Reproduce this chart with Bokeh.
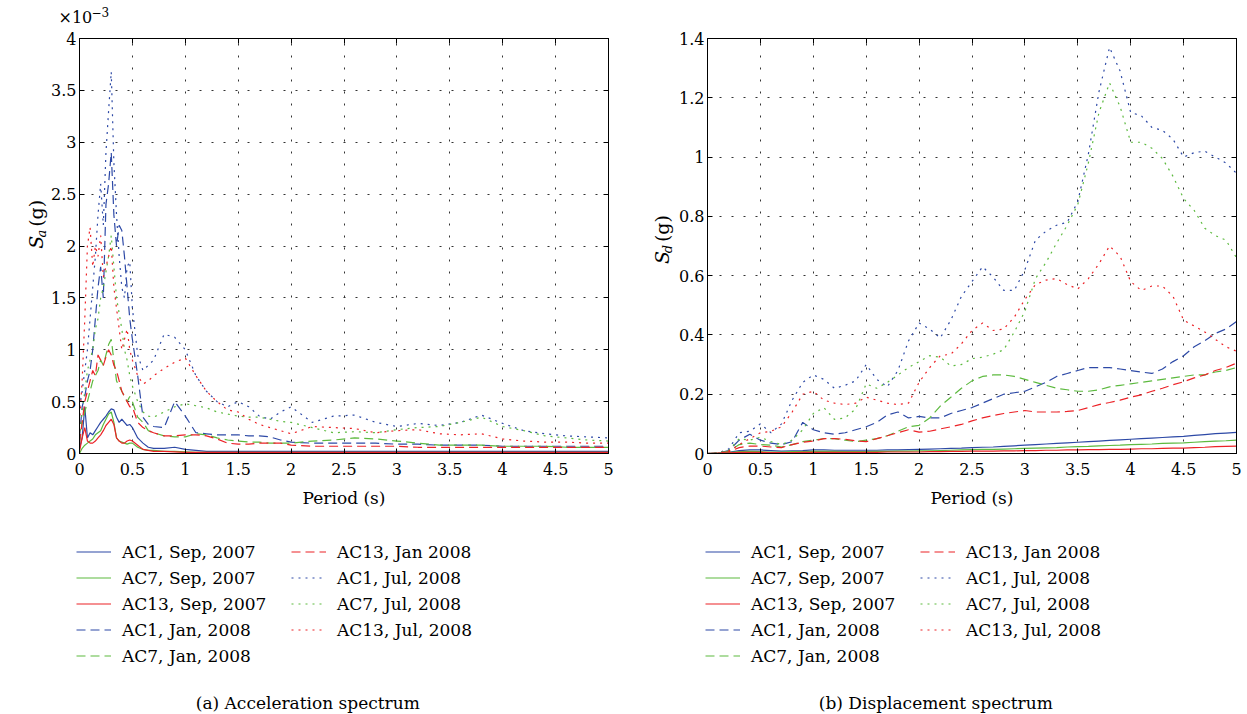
import numpy as np
from bokeh.plotting import figure
from bokeh.models import Legend, LegendItem, Label, FixedTicker, Range1d, LinearAxis
from bokeh.layouts import row, column
from bokeh.embed import file_html
from bokeh.resources import INLINE

FONT = "DejaVu Serif"

# ---------------- data ----------------
series_names = ["AC1, Sep, 2007", "AC7, Sep, 2007", "AC13, Sep, 2007",
                "AC1, Jan, 2008", "AC7, Jan, 2008", "AC13, Jan 2008",
                "AC1, Jul, 2008", "AC7, Jul, 2008", "AC13, Jul, 2008"]

# Acceleration spectrum (values in units of 1e-3 g)
period_acc = [0, 0.025, 0.05, 0.075, 0.1, 0.125, 0.15, 0.175, 0.2, 0.225, 0.25, 0.275, 0.3, 0.325,
              0.35, 0.375, 0.4, 0.425, 0.45, 0.475, 0.5, 0.55, 0.6, 0.65, 0.7, 0.8, 0.9, 1.0, 1.1,
              1.2, 1.3, 1.4, 1.5, 1.6, 1.7, 1.8, 1.9, 2.0, 2.2, 2.4, 2.6, 2.8, 3.0, 3.2, 3.4, 3.6,
              3.8, 4.0, 4.2, 4.4, 4.6, 4.8, 5.0]
acc_ac1_sep = [0.05, 0.15, 0.45, 0.15, 0.2, 0.18, 0.22, 0.26, 0.3, 0.33, 0.36, 0.4, 0.43, 0.42, 0.35,
               0.3, 0.33, 0.3, 0.27, 0.28, 0.25, 0.15, 0.1, 0.06, 0.05, 0.05, 0.06, 0.04, 0.03, 0.02,
               0.02, 0.02, 0.02, 0.02, 0.02, 0.02, 0.02, 0.02, 0.02, 0.02, 0.02, 0.02, 0.02, 0.02,
               0.02, 0.02, 0.02, 0.02, 0.02, 0.02, 0.02, 0.02, 0.02]
acc_ac7_sep = [0.0, 0.05, 0.08, 0.1, 0.12, 0.14, 0.18, 0.2, 0.22, 0.28, 0.33, 0.38, 0.4, 0.3, 0.15,
               0.12, 0.11, 0.1, 0.09, 0.1, 0.1, 0.06, 0.04, 0.03, 0.03, 0.02, 0.02, 0.015, 0.01, 0.01,
               0.01, 0.01, 0.01, 0.01, 0.01, 0.01, 0.01, 0.01, 0.01, 0.01, 0.01, 0.01, 0.01, 0.01,
               0.01, 0.01, 0.01, 0.01, 0.01, 0.01, 0.01, 0.01, 0.01]
acc_ac13_sep = [0.02, 0.15, 0.25, 0.12, 0.1, 0.1, 0.12, 0.15, 0.18, 0.22, 0.27, 0.3, 0.33, 0.28, 0.15,
                0.12, 0.1, 0.1, 0.12, 0.13, 0.12, 0.08, 0.04, 0.03, 0.02, 0.02, 0.015, 0.01, 0.01, 0.01,
                0.01, 0.01, 0.01, 0.01, 0.01, 0.01, 0.01, 0.01, 0.01, 0.01, 0.01, 0.01, 0.01, 0.01,
                0.01, 0.01, 0.01, 0.01, 0.01, 0.01, 0.01, 0.01, 0.01]
acc_ac1_jan = [0.15, 0.45, 0.55, 0.7, 0.8, 1.0, 1.3, 1.6, 1.8, 1.5, 2.4, 2.6, 2.9, 2.3, 2.0, 2.2, 2.15,
               1.9, 1.6, 1.3, 1.1, 0.75, 0.35, 0.28, 0.26, 0.25, 0.5, 0.36, 0.2, 0.19, 0.18, 0.18, 0.18,
               0.17, 0.17, 0.16, 0.13, 0.11, 0.1, 0.1, 0.1, 0.1, 0.09, 0.09, 0.08, 0.08, 0.08, 0.07,
               0.07, 0.07, 0.07, 0.07, 0.07]
acc_ac7_jan = [0.1, 0.3, 0.4, 0.5, 0.6, 0.7, 0.75, 0.8, 0.9, 0.85, 0.95, 1.05, 1.1, 0.9, 0.7, 0.65, 0.6,
               0.55, 0.5, 0.55, 0.5, 0.35, 0.3, 0.22, 0.2, 0.17, 0.16, 0.16, 0.19, 0.18, 0.15, 0.13,
               0.12, 0.11, 0.11, 0.1, 0.1, 0.1, 0.12, 0.13, 0.15, 0.14, 0.12, 0.1, 0.08, 0.08, 0.08,
               0.07, 0.07, 0.07, 0.06, 0.06, 0.06]
acc_ac13_jan = [0.1, 0.3, 0.5, 0.6, 0.7, 0.8, 0.75, 0.95, 0.9, 0.85, 0.93, 1.0, 0.95, 0.85, 0.8, 0.7,
                0.6, 0.55, 0.5, 0.45, 0.45, 0.3, 0.25, 0.22, 0.2, 0.17, 0.17, 0.18, 0.18, 0.17, 0.14,
                0.1, 0.09, 0.09, 0.1, 0.1, 0.1, 0.08, 0.07, 0.07, 0.07, 0.07, 0.07, 0.06, 0.06, 0.06,
                0.06, 0.06, 0.06, 0.06, 0.06, 0.06, 0.06]
acc_ac1_jul = [0.45, 0.6, 0.8, 1.0, 1.3, 1.6, 1.9, 2.3, 2.6, 2.2, 2.9, 3.3, 3.68, 2.8, 2.3, 1.9, 1.6,
               1.5, 1.8, 1.85, 1.4, 0.95, 0.8, 0.85, 0.9, 1.15, 1.12, 1.0, 0.75, 0.6, 0.5, 0.45, 0.5,
               0.45, 0.36, 0.33, 0.4, 0.45, 0.3, 0.36, 0.37, 0.3, 0.26, 0.29, 0.27, 0.3, 0.37, 0.29,
               0.22, 0.19, 0.17, 0.16, 0.15]
acc_ac7_jul = [0.15, 0.4, 0.6, 0.8, 0.9, 1.0, 1.2, 1.3, 1.5, 1.6, 1.75, 1.9, 2.1, 1.8, 1.5, 1.35, 1.2,
               1.0, 0.9, 0.75, 0.65, 0.5, 0.4, 0.36, 0.35, 0.4, 0.45, 0.48, 0.46, 0.44, 0.4, 0.38,
               0.36, 0.35, 0.35, 0.33, 0.31, 0.3, 0.25, 0.2, 0.21, 0.2, 0.23, 0.25, 0.26, 0.3, 0.35,
               0.26, 0.22, 0.17, 0.15, 0.13, 0.12]
acc_ac13_jul = [0.3, 0.7, 1.3, 2.0, 2.18, 1.8, 2.0, 1.9, 2.1, 1.7, 1.8, 1.9, 2.0, 1.6, 1.4, 1.2, 1.0,
                1.1, 1.2, 1.0, 0.9, 0.75, 0.67, 0.7, 0.75, 0.82, 0.88, 0.92, 0.75, 0.6, 0.5, 0.42,
                0.4, 0.33, 0.28, 0.25, 0.22, 0.19, 0.26, 0.25, 0.24, 0.2, 0.22, 0.23, 0.19, 0.18,
                0.19, 0.14, 0.12, 0.11, 0.11, 0.1, 0.1]

# Displacement spectrum
period_disp = [0.0, 0.1, 0.2, 0.3, 0.4, 0.5, 0.6, 0.7, 0.8, 0.9, 1.0, 1.1, 1.2, 1.3, 1.4, 1.5, 1.6,
               1.7, 1.8, 1.9, 2.0, 2.1, 2.2, 2.3, 2.4, 2.5, 2.6, 2.7, 2.8, 2.9, 3.0, 3.1, 3.2, 3.3,
               3.4, 3.5, 3.6, 3.7, 3.8, 3.9, 4.0, 4.1, 4.2, 4.3, 4.4, 4.5, 4.6, 4.7, 4.8, 4.9, 5.0]
disp_ac1_sep = [0.0, 0.001, 0.004, 0.01, 0.012, 0.012, 0.01, 0.008, 0.009, 0.01, 0.012, 0.012, 0.011,
                0.011, 0.011, 0.011, 0.011, 0.012, 0.012, 0.013, 0.014, 0.015, 0.016, 0.017, 0.018,
                0.02, 0.021, 0.022, 0.024, 0.026, 0.028, 0.03, 0.032, 0.034, 0.036, 0.038, 0.04,
                0.042, 0.044, 0.046, 0.048, 0.05, 0.052, 0.054, 0.056, 0.058, 0.061, 0.064, 0.067,
                0.069, 0.071]
disp_ac7_sep = [0.0, 0.001, 0.003, 0.006, 0.007, 0.006, 0.005, 0.005, 0.006, 0.006, 0.007, 0.007,
                0.007, 0.006, 0.006, 0.006, 0.007, 0.007, 0.008, 0.008, 0.009, 0.009, 0.01, 0.011,
                0.012, 0.013, 0.014, 0.014, 0.015, 0.016, 0.017, 0.018, 0.019, 0.02, 0.022, 0.023,
                0.024, 0.026, 0.027, 0.028, 0.03, 0.031, 0.032, 0.034, 0.035, 0.036, 0.038, 0.04,
                0.042, 0.043, 0.045]
disp_ac13_sep = [0.0, 0.001, 0.002, 0.004, 0.004, 0.004, 0.003, 0.003, 0.003, 0.004, 0.004, 0.004,
                 0.004, 0.004, 0.004, 0.004, 0.004, 0.005, 0.005, 0.005, 0.005, 0.006, 0.006, 0.007,
                 0.007, 0.008, 0.008, 0.008, 0.009, 0.009, 0.01, 0.01, 0.011, 0.011, 0.012, 0.012,
                 0.013, 0.013, 0.014, 0.014, 0.015, 0.016, 0.016, 0.017, 0.018, 0.018, 0.02, 0.021,
                 0.023, 0.024, 0.025]
disp_ac1_jan = [0.0, 0.001, 0.01, 0.045, 0.065, 0.045, 0.035, 0.03, 0.04, 0.105, 0.08, 0.07, 0.065,
                0.07, 0.08, 0.09, 0.105, 0.13, 0.14, 0.12, 0.125, 0.12, 0.12, 0.135, 0.145, 0.155,
                0.17, 0.185, 0.2, 0.205, 0.21, 0.225, 0.24, 0.26, 0.27, 0.28, 0.29, 0.29, 0.29, 0.285,
                0.28, 0.275, 0.27, 0.285, 0.31, 0.33, 0.36, 0.38, 0.405, 0.42, 0.445]
disp_ac7_jan = [0.0, 0.001, 0.008, 0.03, 0.035, 0.03, 0.028, 0.022, 0.03, 0.04, 0.045, 0.05, 0.05,
                0.045, 0.04, 0.045, 0.05, 0.06, 0.075, 0.09, 0.095, 0.12, 0.16, 0.19, 0.22, 0.245,
                0.26, 0.265, 0.265, 0.26, 0.25, 0.24, 0.23, 0.22, 0.215, 0.21, 0.21, 0.215, 0.225,
                0.23, 0.235, 0.24, 0.245, 0.25, 0.255, 0.26, 0.265, 0.265, 0.275, 0.28, 0.29]
disp_ac13_jan = [0.0, 0.001, 0.006, 0.02, 0.025, 0.025, 0.022, 0.02, 0.03, 0.038, 0.042, 0.05, 0.05,
                 0.048, 0.043, 0.04, 0.05, 0.06, 0.07, 0.08, 0.072, 0.075, 0.083, 0.09, 0.098, 0.11,
                 0.12, 0.128, 0.135, 0.14, 0.145, 0.14, 0.14, 0.14, 0.142, 0.145, 0.155, 0.165, 0.172,
                 0.18, 0.19, 0.198, 0.21, 0.22, 0.232, 0.242, 0.255, 0.265, 0.28, 0.29, 0.305]
disp_ac1_jul = [0.0, 0.002, 0.015, 0.07, 0.075, 0.1, 0.07, 0.1, 0.18, 0.24, 0.265, 0.25, 0.22, 0.23,
                0.245, 0.3, 0.25, 0.225, 0.28, 0.38, 0.44, 0.42, 0.39, 0.45, 0.53, 0.58, 0.63, 0.595,
                0.55, 0.55, 0.62, 0.72, 0.75, 0.77, 0.78, 0.85, 1.01, 1.22, 1.37, 1.29, 1.15, 1.14,
                1.1, 1.09, 1.06, 1.0, 1.015, 1.02, 1.0, 0.98, 0.945]
disp_ac7_jul = [0.0, 0.002, 0.01, 0.05, 0.045, 0.055, 0.04, 0.03, 0.045, 0.08, 0.135, 0.155, 0.115,
                0.12, 0.15, 0.235, 0.22, 0.24, 0.265, 0.29, 0.31, 0.33, 0.325, 0.295, 0.3, 0.32, 0.325,
                0.335, 0.35, 0.41, 0.48, 0.59, 0.645, 0.71, 0.77, 0.84, 0.98, 1.15, 1.25, 1.17, 1.05,
                1.05, 1.03, 0.995, 0.935, 0.86, 0.82, 0.76, 0.735, 0.72, 0.66]
disp_ac13_jul = [0.0, 0.001, 0.008, 0.03, 0.05, 0.07, 0.075, 0.09, 0.14, 0.2, 0.21, 0.18, 0.17, 0.165,
                 0.17, 0.19, 0.18, 0.17, 0.165, 0.17, 0.24, 0.29, 0.33, 0.335, 0.37, 0.415, 0.44,
                 0.415, 0.42, 0.46, 0.52, 0.57, 0.585, 0.59, 0.57, 0.555, 0.59, 0.64, 0.7, 0.665,
                 0.58, 0.55, 0.565, 0.565, 0.53, 0.45, 0.43, 0.41, 0.385, 0.36, 0.345]

x_ticks = [0, 0.5, 1.0, 1.5, 2.0, 2.5, 3.0, 3.5, 4.0, 4.5, 5.0]
x_tick_labels = ["0", "0.5", "1", "1.5", "2", "2.5", "3", "3.5", "4", "4.5", "5"]
acc_ticks = [0, 0.5, 1.0, 1.5, 2.0, 2.5, 3.0, 3.5, 4.0]
acc_tick_labels = ["0", "0.5", "1", "1.5", "2", "2.5", "3", "3.5", "4"]
disp_ticks = [0, 0.2, 0.4, 0.6, 0.8, 1.0, 1.2, 1.4]
disp_tick_labels = ["0", "0.2", "0.4", "0.6", "0.8", "1", "1.2", "1.4"]

# ---------------- styles ----------------
BLUE, GREEN, RED = "#2d49a6", "#5dba3f", "#ec2227"
colors = [BLUE, GREEN, RED] * 3
dashes = ["solid"] * 3 + ["9 5"] * 3 + ["2 5"] * 3

TOP_H = 26          # strip above the plot (holds the x10^-3 multiplier)
MAIN_TOP = 12       # room above the frame for the top tick label
MAIN_BOTTOM = 62    # x-axis area under the frame
FRAME_W, FRAME_H = 529, 415
MAIN_LEFT = 29
MAIN_H = MAIN_TOP + FRAME_H + MAIN_BOTTOM
BOTTOM_H = 714 - TOP_H - MAIN_H
ROW_TOP = TOP_H     # page y where the plot row starts


def blank(w, h):
    q = figure(width=w, height=h, x_range=Range1d(0, w), y_range=Range1d(h, 0),
               x_axis_type=None, y_axis_type=None, output_backend="svg", toolbar_location=None,
               min_border=0, min_border_left=0, min_border_right=0, min_border_top=0,
               min_border_bottom=0)
    q.outline_line_color = None
    q.background_fill_color = "white"
    q.border_fill_color = "white"
    return q


def text(q, x, y, s, size, style="normal", align="left", baseline="alphabetic", angle=0.0):
    q.add_layout(Label(x=x, y=y, text=s, text_font=FONT, text_font_size=size,
                       text_font_style=style, text_align=align, text_baseline=baseline,
                       angle=angle, text_color="black"))


def box_axis(ticker):
    return LinearAxis(ticker=ticker, major_tick_in=5, major_tick_out=0,
                      minor_tick_line_color=None, axis_line_color="black",
                      major_tick_line_color="black", major_label_text_font_size="1px",
                      major_label_text_color=None, major_label_standoff=0)


def main_panel(period, series, y_end, y_ticks, y_labels, right_border):
    p = figure(frame_width=FRAME_W, frame_height=FRAME_H, x_range=Range1d(0, 5),
               y_range=Range1d(0, y_end), output_backend="svg", toolbar_location=None,
               min_border_left=MAIN_LEFT, min_border_right=right_border, min_border_top=MAIN_TOP,
               min_border_bottom=MAIN_BOTTOM)
    p.background_fill_color = "white"
    p.border_fill_color = "white"
    p.outline_line_color = "black"
    p.outline_line_width = 1
    for vals, c, d in zip(series, colors, dashes):
        p.line(period, vals, line_color=c, line_dash=d, line_width=1.2)

    xt = FixedTicker(ticks=x_ticks)
    yt = FixedTicker(ticks=y_ticks)
    p.xaxis.ticker = xt
    p.yaxis.ticker = yt
    p.xgrid.ticker = xt
    p.ygrid.ticker = yt
    p.xaxis.major_label_overrides = {float(t): l for t, l in zip(x_ticks, x_tick_labels)}
    p.yaxis.major_label_overrides = {float(t): l for t, l in zip(y_ticks, y_labels)}
    for ax in (p.xaxis[0], p.yaxis[0]):
        ax.major_tick_in = 5
        ax.major_tick_out = 0
        ax.minor_tick_line_color = None
        ax.axis_line_color = "black"
        ax.major_tick_line_color = "black"
        ax.major_label_text_font = FONT
        ax.major_label_text_font_size = "16px"
        ax.major_label_text_color = "black"
    p.yaxis.major_label_standoff = 3
    p.xaxis.major_label_standoff = 9
    p.xaxis.axis_label = "Period (s)"
    p.xaxis.axis_label_text_font = FONT
    p.xaxis.axis_label_text_font_size = "17px"
    p.xaxis.axis_label_text_font_style = "normal"
    p.xaxis.axis_label_text_color = "black"
    p.xaxis.axis_label_standoff = 10
    # tick marks on the top and right edges of the box
    p.add_layout(box_axis(xt), "above")
    p.add_layout(box_axis(yt), "right")
    for g in (p.xgrid[0], p.ygrid[0]):
        g.grid_line_color = "#333333"
        g.grid_line_dash = "2 10"
        g.grid_line_width = 1
    return p


def ylabel_panel(w, centre_x, start_y, sub):
    # rotated "S<sub> (g)", reading bottom-to-top; positions are text centres
    q = blank(w, MAIN_H)
    a = np.pi / 2
    text(q, centre_x, start_y - 6, "S", "19px", "italic", "center", "middle", a)
    text(q, centre_x + 5, start_y - 16, sub, "13px", "italic", "center", "middle", a)
    text(q, centre_x, start_y - 40, "(g)", "19px", "normal", "center", "middle", a)
    return q


def bottom_panel(w, leg_x, caption, cap_x):
    q = blank(w, BOTTOM_H)
    # legend keys (kept outside the visible range of this strip)
    rs = [q.line([-30, -20], [-30, -20], line_color=c, line_dash=d, line_width=1.2)
          for c, d in zip(colors, dashes)]
    items = [LegendItem(label=n, renderers=[r]) for n, r in zip(series_names, rs)]
    leg_top = 541 - (ROW_TOP + MAIN_H)
    leg_h = 5 * 21 + 4 * 5
    leg = Legend(items=items, location=(leg_x, BOTTOM_H - leg_top - leg_h), orientation="vertical",
                 nrows=5, glyph_width=35, glyph_height=21, label_height=21, label_width=164,
                 label_standoff=11, spacing=5, padding=0, margin=0,
                 border_line_color=None, background_fill_alpha=0,
                 label_text_font=FONT, label_text_font_size="17px", label_text_color="black")
    q.add_layout(leg, "center")
    text(q, cap_x, BOTTOM_H - 12, caption, "17px", align="center")
    return q


acc_series = [acc_ac1_sep, acc_ac7_sep, acc_ac13_sep, acc_ac1_jan, acc_ac7_jan, acc_ac13_jan,
              acc_ac1_jul, acc_ac7_jul, acc_ac13_jul]
disp_series = [disp_ac1_sep, disp_ac7_sep, disp_ac13_sep, disp_ac1_jan, disp_ac7_jan, disp_ac13_jan,
               disp_ac1_jul, disp_ac7_jul, disp_ac13_jul]

# left block: x 0..634
YLAB_L = 77 - MAIN_LEFT
top_l = blank(634, TOP_H)
text(top_l, 58, 17, "\u00d710", "16px")
text(top_l, 91, 11, "\u22123", "12px")
ylab_l = ylabel_panel(YLAB_L, 35.5, 272 - ROW_TOP, "a")
main_l = main_panel(period_acc, acc_series, 4, acc_ticks, acc_tick_labels, 28)
bot_l = bottom_panel(634, 76, "(a)  Acceleration spectrum", 310)
left_block = column(top_l, row(ylab_l, main_l), bot_l)

# right block: x 634..1240
YLAB_R = 703 - 634 - MAIN_LEFT
top_r = blank(606, TOP_H)
ylab_r = ylabel_panel(YLAB_R, 25.5, 290 - ROW_TOP, "d")
main_r = main_panel(period_disp, disp_series, 1.4, disp_ticks, disp_tick_labels, 8)
bot_r = bottom_panel(606, 69, "(b)  Displacement spectrum", 302)
right_block = column(top_r, row(ylab_r, main_r), bot_r)

layout = row(left_block, right_block)
open("out.html", "w").write(file_html(layout, INLINE))
